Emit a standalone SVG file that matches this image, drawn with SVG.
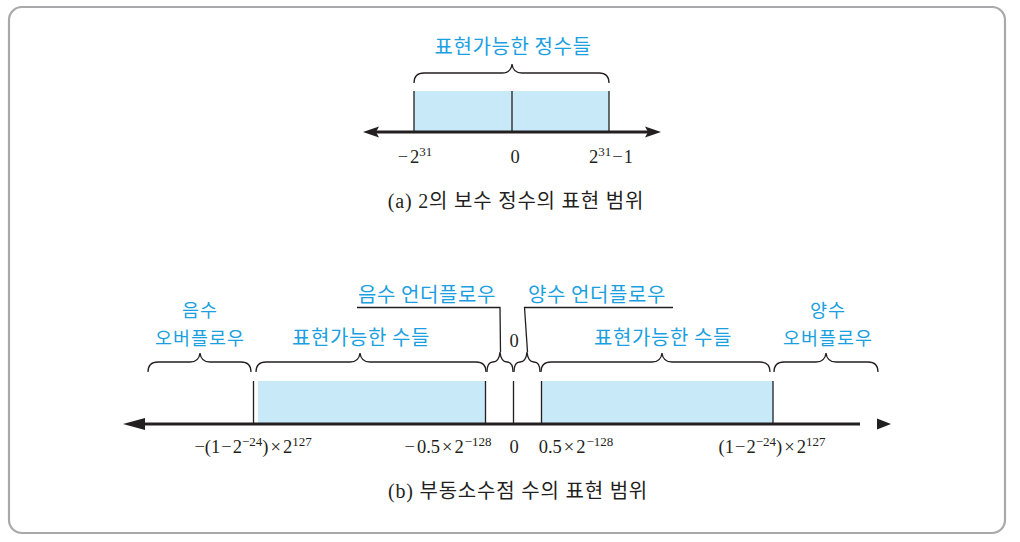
<svg xmlns="http://www.w3.org/2000/svg" width="1020" height="542" viewBox="0 0 1020 542">
<defs>
<style>
.frame{fill:#fff;stroke:#a9a9ac;stroke-width:2.2}
.box{fill:#c8e9f8;stroke:none}
.vl{stroke:#231f20;stroke-width:1.3;fill:none}
.axis{stroke:#231f20;stroke-width:3;fill:none}
.head{fill:#231f20}
.brace{stroke:#231f20;stroke-width:1.3;fill:none}
.lead{stroke:#231f20;stroke-width:1.3;fill:none}
.kt{font-family:"Noto Sans CJK KR","Noto Sans",sans-serif;font-size:20px;letter-spacing:0.6px;fill:#1aa0e0;text-anchor:middle}
.kt2{font-size:18.5px;letter-spacing:1px}
.num{font-family:"Liberation Serif","DejaVu Serif",serif;font-size:18.5px;fill:#231f20;text-anchor:middle}
.sup{font-size:13px}
.cap{font-family:"Liberation Serif","Noto Sans CJK KR",serif;font-size:20px;letter-spacing:0.8px;fill:#231f20;text-anchor:middle}
</style>
</defs>
<rect class="frame" x="9" y="7" width="996" height="526" rx="13"/>

<!-- (a) -->
<g id="a-range">
<rect class="box" x="414" y="91" width="195" height="41"/>
<path class="vl" d="M414 91V132M512 91V132M609 91V132"/>
</g>
<g id="a-axis">
<path class="axis" d="M372 132H652"/>
<path class="head" d="M363 132L379 126.5L376 132L379 137.5Z"/>
<path class="head" d="M661 132L645 126.5L648 132L645 137.5Z"/>
</g>
<g id="a-brace">
<path class="brace" d="M414 83Q414 73 424 73H502Q511 73 512 64Q513 73 522 73H599Q609 73 609 83"/>
<text class="kt" x="513" y="54">표현가능한 정수들</text>
</g>
<g id="a-labels">
<text class="num" x="415" y="163">−<tspan dx="2">2</tspan><tspan class="sup" dy="-7.5">31</tspan></text>
<text class="num" x="515" y="163">0</text>
<text class="num" x="611" y="163">2<tspan class="sup" dy="-7.5">31</tspan><tspan dy="7.5" dx="1">−</tspan><tspan dx="1">1</tspan></text>
</g>
<text class="cap" x="516" y="208">(a) 2의 보수 정수의 표현 범위</text>

<!-- (b) -->
<g id="b-ranges">
<rect class="box" x="258" y="381" width="227.5" height="43"/>
<rect class="box" x="541.5" y="381" width="231.5" height="43"/>
<path class="vl" d="M253.5 381V424M485.5 381V424M513.5 381V424M541.5 381V424M773 381V424"/>
</g>
<g id="b-axis">
<path class="axis" d="M132 424H860"/>
<path class="head" d="M123 424L145 418V430Z"/>
<path class="head" d="M891 424L877 418.5V429.5Z"/>
</g>
<g id="b-neg-overflow">
<path class="brace" d="M148 372Q148 362 158 362H190Q199 362 200 353Q201 362 210 362H241Q251 362 251 372"/>
<text class="kt kt2" x="200" y="317">음수</text>
<text class="kt kt2" x="200" y="344.5">오버플로우</text>
</g>
<g id="b-neg-range">
<path class="brace" d="M256 372Q256 362 266 362H350Q359 362 360 353Q361 362 370 362H476Q486 362 486 372"/>
<text class="kt" x="361" y="345">표현가능한 수들</text>
</g>
<g id="b-neg-underflow">
<path class="brace" d="M487 372Q487 362 493 362Q499 362 500 352Q501 362 507 362Q513 362 513 372"/>
<path class="lead" d="M500.5 352L500 307.5H357"/>
<text class="kt" x="427" y="302">음수 언더플로우</text>
</g>
<text class="num" x="514" y="347">0</text>
<g id="b-pos-underflow">
<path class="brace" d="M514 372Q514 362 520 362Q526 362 527 352Q528 362 534 362Q540 362 540 372"/>
<path class="lead" d="M527.5 352L524.5 307.5H673"/>
<text class="kt" x="597" y="302">양수 언더플로우</text>
</g>
<g id="b-pos-range">
<path class="brace" d="M541 372Q541 362 551 362H652Q661 362 662 353Q663 362 672 362H760Q770 362 770 372"/>
<text class="kt" x="663" y="345">표현가능한 수들</text>
</g>
<g id="b-pos-overflow">
<path class="brace" d="M774 372Q774 362 784 362H816Q825 362 826 353Q827 362 836 362H868Q878 362 878 372"/>
<text class="kt kt2" x="828" y="317">양수</text>
<text class="kt kt2" x="828" y="344.5">오버플로우</text>
</g>
<g id="b-labels">
<text class="num" x="253" y="453">−(1<tspan dx="1">−</tspan><tspan dx="1">2</tspan><tspan class="sup" dy="-7.5">−24</tspan><tspan dy="7.5">)</tspan><tspan dx="2">×</tspan><tspan dx="2">2</tspan><tspan class="sup" dy="-7.5">127</tspan></text>
<text class="num" x="448" y="453">−<tspan dx="2">0.5</tspan><tspan dx="2">×</tspan><tspan dx="2">2</tspan><tspan class="sup" dy="-7.5" dx="1">−128</tspan></text>
<text class="num" x="514" y="453">0</text>
<text class="num" x="576" y="453">0.5<tspan dx="2">×</tspan><tspan dx="2">2</tspan><tspan class="sup" dy="-7.5" dx="1">−128</tspan></text>
<text class="num" x="772" y="453">(1<tspan dx="1">−</tspan><tspan dx="1">2</tspan><tspan class="sup" dy="-7.5">−24</tspan><tspan dy="7.5">)</tspan><tspan dx="2">×</tspan><tspan dx="2">2</tspan><tspan class="sup" dy="-7.5">127</tspan></text>
</g>
<text class="cap" x="518" y="498">(b) 부동소수점 수의 표현 범위</text>
</svg>
